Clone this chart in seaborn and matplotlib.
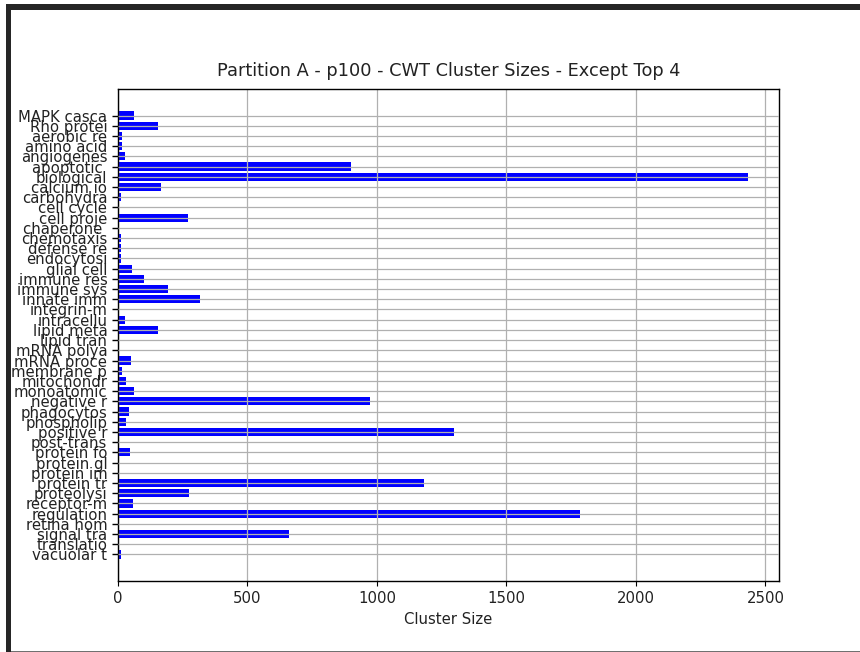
import seaborn as sns
import pandas as pd
import matplotlib
matplotlib.use("Agg")
from matplotlib import pyplot as plt
from matplotlib.patches import Rectangle

# truncated category names (first 10 chars) and cluster sizes
categories = [
    "MAPK casca", "Rho protei", "aerobic re", "amino acid", "angiogenes",
    "apoptotic ", "biological", "calcium io", "carbohydra", "cell cycle",
    "cell proje", "chaperone ", "chemotaxis", "defense re", "endocytosi",
    "glial cell", "immune res", "immune sys", "innate imm", "integrin-m",
    "intracellu", "lipid meta", "lipid tran", "mRNA polya", "mRNA proce",
    "membrane p", "mitochondr", "monoatomic", "negative r", "phagocytos",
    "phospholip", "positive r", "post-trans", "protein fo", "protein gl",
    "protein im", "protein tr", "proteolysi", "receptor-m", "regulation",
    "retina hom", "signal tra", "translatio", "vacuolar t",
]
sizes = [
    62, 156, 17, 17, 26,
    899, 2431, 166, 10, 5,
    270, 1, 10, 10, 10,
    54, 100, 192, 316, 5,
    26, 156, 1, 1, 52,
    17, 31, 62, 975, 41,
    31, 1297, 1, 48, 1,
    5, 1183, 275, 57, 1786,
    5, 662, 1, 10,
]

df = pd.DataFrame({"category": categories, "size": sizes})

fig = plt.figure(figsize=(8.6, 6.52), dpi=100)
ax = fig.add_axes([118 / 860, 1 - 581 / 652, 661 / 860, 492 / 652])

sns.barplot(data=df, y="category", x="size", orient="h", color="blue",
            saturation=1, width=0.8, linewidth=0, ax=ax)

n = len(categories)
ax.set_ylim(n - 1 + 2.6, -2.6)
ax.set_xlim(0, max(sizes) * 1.05)
ax.grid(True, color="#b0b0b0", linewidth=0.9, zorder=1.5)
ax.tick_params(axis="x", which="major", length=3.7, width=0.8, pad=3.7,
               labelsize=10.7, color="black", labelcolor="#222222")
ax.tick_params(axis="y", which="major", left=True, length=4.5, width=1.0,
               pad=3.2, labelsize=10.7, color="black", labelcolor="#222222")
ax.yaxis.set_zorder(3)
ax.set_xlabel("Cluster Size", fontsize=10.7, color="#222222")
ax.set_ylabel("")
ax.set_title("Partition A - p100 - CWT Cluster Sizes - Except Top 4",
             fontsize=12.8, pad=9, color="#222222")
for side in ["left", "bottom", "top", "right"]:
    ax.spines[side].set_color("black")
    ax.spines[side].set_linewidth(1.0)
    ax.spines[side].set_zorder(3)

# notebook frame around the output
fig.add_artist(Rectangle((6 / 860, 0), 5 / 860, 1 - 4 / 652,
                         transform=fig.transFigure, color="#262626", lw=0))
fig.add_artist(Rectangle((6 / 860, 1 - 10 / 652), 1, 6 / 652,
                         transform=fig.transFigure, color="#262626", lw=0))
fig.add_artist(Rectangle((11 / 860, 0), 1, 1.5 / 652,
                         transform=fig.transFigure, color="#707070", lw=0))

fig.savefig("out.png", dpi=100)
plt.close()
